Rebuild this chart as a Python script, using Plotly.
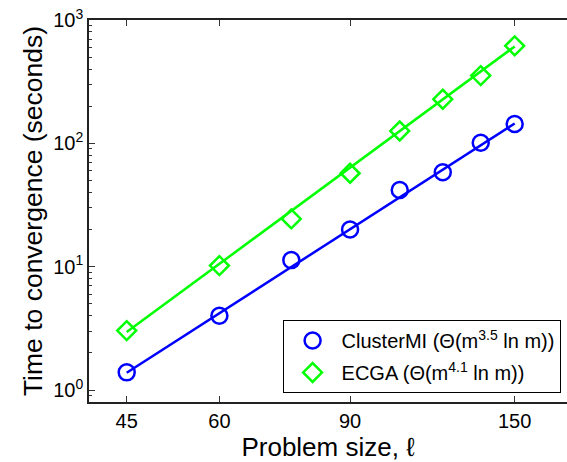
import numpy as np
import plotly.graph_objects as go

# Data
problem_size = [45, 60, 75, 90, 105, 120, 135, 150]
clustermi_time = [1.39, 4.0, 11.3, 20.0, 41.9, 58.3, 101, 143.6]
ecga_time = [3.03, 10.2, 24.4, 57.2, 126, 228, 354, 617]

fit_x = [45, 150]
clustermi_fit = [1.38, 145]
ecga_fit = [2.95, 610]

x_tickvals = [45, 60, 90, 150]
y_tickvals = [1, 10, 100, 1000]

BLUE = "#0000FF"
GREEN = "#00FF00"
FONT = "Liberation Sans, Arial, Helvetica, sans-serif"

fig = go.Figure()

# fit lines
fig.add_trace(go.Scatter(x=fit_x, y=clustermi_fit, mode="lines",
                         line=dict(color=BLUE, width=2.5), showlegend=False, hoverinfo="skip"))
fig.add_trace(go.Scatter(x=fit_x, y=ecga_fit, mode="lines",
                         line=dict(color=GREEN, width=2.5), showlegend=False, hoverinfo="skip"))

# data markers
fig.add_trace(go.Scatter(x=problem_size, y=clustermi_time, mode="markers",
                         name="ClusterMI (Θ(m<sup>3.5</sup> ln m))",
                         legendgroup="a",
                         marker=dict(symbol="circle-open", size=16, color=BLUE,
                                     line=dict(color=BLUE, width=2.5))))
fig.add_trace(go.Scatter(x=problem_size, y=ecga_time, mode="markers",
                         name="ECGA (Θ(m<sup>4.1</sup> ln m))",
                         legendgroup="b",
                         marker=dict(symbol="diamond-open", size=14.5, color=GREEN,
                                     line=dict(color=GREEN, width=2.5))))

minor_y = [m * 10 ** e for e in range(-1, 3) for m in range(2, 10)]
minor_y = [v for v in minor_y if 0.79 < v < 1000]

fig.update_layout(
    width=567, height=462,
    margin=dict(l=89, r=0, t=20, b=60),
    paper_bgcolor="white", plot_bgcolor="white",
    font=dict(family=FONT, color="black", size=20),
    showlegend=True,
    legend=dict(x=0.405, y=0.0236, xanchor="left", yanchor="bottom",
                bordercolor="black", borderwidth=1, bgcolor="white",
                font=dict(size=20, family=FONT),
                tracegroupgap=3, itemwidth=48),
)

fig.update_xaxes(
    type="log", range=[1.6024, 2.2466],
    tickmode="array", tickvals=x_tickvals, ticktext=[str(v) for v in x_tickvals],
    ticks="inside", ticklen=6, tickwidth=1, tickcolor="#333",
    showline=True, linecolor="#222", linewidth=1.5, mirror="ticks",
    showgrid=False, zeroline=False,
    tickfont=dict(size=20, family=FONT),
    title=dict(text="Problem size, ℓ", font=dict(size=26, family=FONT), standoff=2),
)
fig.update_yaxes(
    type="log", range=[-0.0973, 3],
    tickmode="array", tickvals=y_tickvals,
    ticktext=["10<sup>0</sup>", "10<sup>1</sup>", "10<sup>2</sup>", "10<sup>3</sup>"],
    ticks="inside", ticklen=6, tickwidth=1, tickcolor="#333",
    minor=dict(tickvals=minor_y, ticks="inside", ticklen=3, tickcolor="#333", showgrid=False),
    showline=True, linecolor="#222", linewidth=1.5, mirror=False,
    showgrid=False, zeroline=False,
    tickfont=dict(size=20, family=FONT),
    title=dict(text="Time to convergence (seconds)", font=dict(size=26.5, family=FONT), standoff=3),
)

fig.write_html("out.html")
